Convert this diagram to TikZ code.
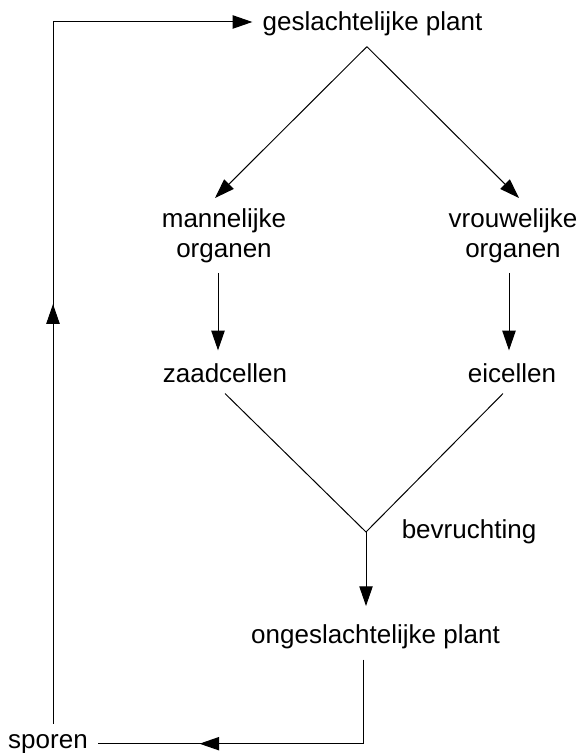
\documentclass[tikz,border=0pt]{standalone}
\usepackage{fontspec}
\setmainfont{Liberation Sans}
\usetikzlibrary{arrows.meta, decorations.markings}

\begin{document}
\begin{tikzpicture}[
		>={Triangle[length=14pt,width=9.5pt]},
		every node/.style={font=\fontsize{18.5}{21.3}\selectfont, inner sep=0.25cm},
		lijn/.style={line width=0.7pt},
		midpijl/.style={postaction={decorate}, decoration={markings, mark=at position #1 with {\arrow{Triangle[length=14pt,width=9.5pt]}}}}
	]
		\useasboundingbox (0,0) rectangle (14.475,18.825);

		% Text nodes
		\node[anchor=base] (gp) at (9.3125,18.05) {geslachtelijke plant};
		\node[align=center] (mo) at (5.6,12.94) {mannelijke\\organen};
		\node[align=center] (vo) at (12.825,12.94) {vrouwelijke\\organen};
		\node[anchor=base] (zc) at (5.625,9.25) {zaadcellen};
		\node[anchor=base] (ei) at (12.8,9.25) {eicellen};
		\node[anchor=base] (bv) at (11.725,5.35) {bevruchting};
		\node[anchor=base] (og) at (9.3875,2.725) {ongeslachtelijke plant};
		\node[anchor=base] (sp) at (1.2,0.125) {sporen};

		\coordinate (apex) at ([xshift=-0.14cm]gp.south);
		\coordinate (meet) at (9.15,5.525); % bevruchting
		\coordinate (hoek) at (1.325,18.275);

		% Split into the two organs
		\draw[lijn,->] (apex) -- ([xshift=-0.225cm]mo.north);
		\draw[lijn,->] (apex) -- ([xshift=0.15cm]vo.north);
		\draw[lijn,->] ([xshift=-0.15cm]mo.south) -- ++(0,-1.94);
		\draw[lijn,->] ([xshift=-0.1cm]vo.south) -- ++(0,-1.94);

		% Cells meet
		\draw[lijn] (zc.south) -- (meet) -- ([xshift=-0.225cm]ei.south);
		\draw[lijn,->] (meet) -- ++(0,-1.85);

		% Back round the cycle
		\draw[lijn, midpijl=6.21cm] ([xshift=-0.29cm]og.south) |- (sp.east);
		\draw[lijn,->, midpijl=10.49cm] (sp.north -| hoek) -- (hoek) -- (hoek -| gp.west);
	\end{tikzpicture}
\end{document}
